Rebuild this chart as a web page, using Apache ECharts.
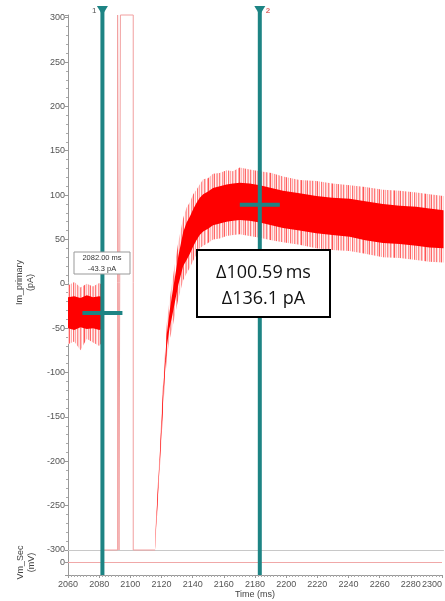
<!DOCTYPE html>
<html><head><meta charset="utf-8">
<script src="https://cdn.jsdelivr.net/npm/echarts@6/dist/echarts.min.js"></script>
<style>html,body{margin:0;padding:0;background:#fff}#c{width:445px;height:601px}</style>
</head><body><div id="c"></div>
<script>
// ---- data ----
const baselineTime      = [2060, 2064, 2068, 2072, 2076, 2080, 2082.5];
const baselineCoreHigh  = [-15, -14, -16, -13, -15, -14, -15];
const baselineCoreLow   = [-50, -52, -49, -51, -50, -52, -50];
const baselineSpikeHigh = [-2, 2, -4, 0, -3, 1, -2];
const baselineSpikeLow  = [-68, -65, -75, -62, -66, -70, -64];

const responseTime = [2115.7, 2116.3, 2117.8, 2119.3, 2121.0, 2123.2, 2124.8, 2126.4, 2128.5, 2130.5,
  2133.6, 2135.8, 2137.9, 2140, 2142.1, 2144.2, 2146.4, 2149.5, 2152.7, 2157, 2161.3, 2165.5, 2169.8,
  2176, 2182.6, 2190, 2197.4, 2208, 2218.7, 2229, 2240, 2250, 2261.3, 2272, 2282.6, 2291, 2300];
const responseCoreHigh = [-296, -267, -221, -172, -115, -56, -33, -14, 9, 31,
  58, 69, 76, 84, 91, 97, 101, 104, 108, 110, 112, 113, 114,
  113, 111, 108, 105, 102, 99, 97, 96, 93, 90, 88, 87, 85, 83];
const responseCoreLow = [-300, -275, -229, -182, -125, -70, -51, -38, -19, -1,
  20, 27, 34, 42, 49, 55, 59, 62, 66, 68, 70, 71, 72,
  71, 69, 66, 63, 60, 57, 55, 53, 49, 46, 45, 43, 41, 40];
const responseSpikeHigh = [-294, -262, -214, -164, -104, -44, -20, 0, 24, 47,
  74, 86, 92, 101, 106, 112, 118, 119, 124, 125, 128, 127, 131,
  129, 127, 125, 121, 117, 116, 113, 111, 109, 106, 105, 103, 101, 99];
const responseSpikeLow = [-300, -280, -236, -190, -136, -82, -64, -52, -34, -17,
  4, 12, 18, 26, 33, 40, 43, 46, 50, 51, 54, 55, 56,
  54, 52, 49, 47, 44, 40, 38, 37, 34, 30, 29, 27, 25, 24];

const artifactTime  = [2082.5, 2082.5, 2091.7, 2091.7, 2092.6, 2092.6, 2093.5, 2093.5, 2101.7, 2101.7, 2115.7];
const artifactValue = [-33, -300, -300, 303, 303, -300, -300, 303, 303, -300, -300];

const vmTime  = [2060, 2300];
const vmValue = [0, 0];

const cursorTime  = [2082, 2182.59];
const cursorValue = [-33, 89];
const cursorNames = ['1', '2'];

const xTickMin = 2060, xTickMax = 2300, xTickStep = 20;
const yTickMin = -300, yTickMax = 303, yTickStep = 50;

const cursorLabelLines = ['2082.00 ms', '-43.3 pA'];
const deltaLines = ['\u0394100.59\u2009ms', '\u0394136.1 pA'];

// ---- chart ----
const FONT = '"Liberation Sans", Arial, sans-serif';
const TEAL = '#1d8484';

// striped texture used for the noisy fringe of the trace (style only)
const stripeTint = [0.55, 0.12, 0.75, 0.25, 0.05, 0.6, 0.3, 0.9, 0.1, 0.45, 0.0, 0.8, 0.2, 0.5, 0.08,
  0.65, 0.3, 0.15, 0.7, 0.35, 0.0, 0.5, 0.95, 0.2, 0.4, 0.1, 0.6, 0.28, 0.85, 0.05, 0.45];
const stripe = document.createElement('canvas');
stripe.width = stripeTint.length; stripe.height = 4;
(function () {
  const g = stripe.getContext('2d');
  stripeTint.forEach((a, i) => {
    const c = Math.round(255 * (1 - 0.7 * a));
    g.fillStyle = 'rgb(255,' + c + ',' + c + ')';
    g.fillRect(i, 0, 1, 4);
  });
})();
const fringeFill = {image: stripe, repeat: 'repeat'};

const chart = echarts.init(document.getElementById('c'), null, {renderer: 'canvas'});

function band(time, hi, lo, color) {
  return function (params, api) {
    const pts = [];
    for (let i = 0; i < time.length; i++) pts.push(api.coord([time[i], hi[i]]));
    for (let i = time.length - 1; i >= 0; i--) pts.push(api.coord([time[i], lo[i]]));
    return {type: 'polygon', shape: {points: pts}, style: {fill: color}};
  };
}

const axisLabelStyle = {color: '#555', fontSize: 9, fontFamily: FONT};

chart.setOption({
  animation: false,
  backgroundColor: '#fff',
  grid: [
    {left: 68, right: 1.5, top: 15, height: 535},
    {left: 68, right: 1.5, top: 550, height: 25}
  ],
  xAxis: [
    {gridIndex: 0, type: 'value', min: xTickMin, max: xTickMax, interval: xTickStep,
     axisLine: {show: true, onZero: false, lineStyle: {color: '#c8c8c8', width: 1}},
     axisTick: {show: false}, axisLabel: {show: false}, splitLine: {show: false}},
    {gridIndex: 1, type: 'value', min: xTickMin, max: xTickMax, interval: xTickStep,
     name: 'Time (ms)', nameLocation: 'middle', nameGap: 14,
     nameTextStyle: {color: '#444', fontSize: 9, fontFamily: FONT},
     axisLine: {show: true, onZero: false, lineStyle: {color: '#999', width: 1}},
     axisTick: {show: true, length: 3, lineStyle: {color: '#999'}},
     minorTick: {show: true, splitNumber: 10, length: 2, lineStyle: {color: '#aaa'}},
     axisLabel: Object.assign({margin: 5, alignMaxLabel: 'right', formatter: v => String(v)}, axisLabelStyle),
     splitLine: {show: false}}
  ],
  yAxis: [
    {gridIndex: 0, type: 'value', min: yTickMin, max: yTickMax, interval: yTickStep,
     name: 'Im_primary\n(pA)', nameLocation: 'middle', nameGap: 31,
     nameTextStyle: {color: '#444', fontSize: 9, fontFamily: FONT, lineHeight: 11},
     axisLine: {show: true, lineStyle: {color: '#999', width: 1}},
     axisTick: {show: true, length: 3, lineStyle: {color: '#999'}},
     minorTick: {show: true, splitNumber: 5, length: 2, lineStyle: {color: '#aaa'}},
     axisLabel: Object.assign({margin: 3, formatter: v => (v % 50 === 0 ? String(v) : '')}, axisLabelStyle),
     splitLine: {show: false}},
    {gridIndex: 1, type: 'value', min: -14, max: 14, interval: 14,
     name: 'Vm_Sec\n(mV)', nameLocation: 'middle', nameGap: 31,
     nameTextStyle: {color: '#444', fontSize: 9, fontFamily: FONT, lineHeight: 11},
     axisLine: {show: true, lineStyle: {color: '#999', width: 1}},
     axisTick: {show: true, length: 3, lineStyle: {color: '#999'}},
     axisLabel: Object.assign({margin: 3, formatter: v => (v === 0 ? '0' : '')}, axisLabelStyle),
     splitLine: {show: false}}
  ],
  series: [
    {type: 'line', xAxisIndex: 1, yAxisIndex: 1, data: vmTime.map((t, i) => [t, vmValue[i]]),
     symbol: 'none', lineStyle: {color: '#f0a8a8', width: 1}, z: 2},
    {type: 'line', xAxisIndex: 0, yAxisIndex: 0, data: artifactTime.map((t, i) => [t, artifactValue[i]]),
     symbol: 'none', clip: false, lineStyle: {color: '#f2a0a0', width: 1}, z: 2},
    {type: 'custom', xAxisIndex: 0, yAxisIndex: 0, data: [[baselineTime[0], baselineCoreHigh[0]]],
     renderItem: band(baselineTime, baselineSpikeHigh, baselineSpikeLow, fringeFill), z: 3},
    {type: 'custom', xAxisIndex: 0, yAxisIndex: 0, data: [[baselineTime[0], baselineCoreHigh[0]]],
     renderItem: band(baselineTime, baselineCoreHigh, baselineCoreLow, '#ff0000'), z: 3},
    {type: 'custom', xAxisIndex: 0, yAxisIndex: 0, data: [[responseTime[0], responseCoreHigh[0]]],
     renderItem: band(responseTime, responseSpikeHigh, responseSpikeLow, fringeFill), z: 3},
    {type: 'custom', xAxisIndex: 0, yAxisIndex: 0, data: [[responseTime[0], responseCoreHigh[0]]],
     renderItem: band(responseTime, responseCoreHigh, responseCoreLow, '#ff0000'), z: 3},
    {type: 'custom', xAxisIndex: 0, yAxisIndex: 0, z: 5,
     data: cursorTime.map((t, i) => [t, cursorValue[i], cursorNames[i]]),
     renderItem: function (params, api) {
       const p = api.coord([api.value(0), api.value(1)]);
       const cs = params.coordSys;
       const top = cs.y, bottom = cs.y + cs.height + 25;
       const name = cursorNames[params.dataIndex];
       const first = params.dataIndex === 0;
       return {type: 'group', children: [
         {type: 'line', shape: {x1: p[0], y1: top - 4, x2: p[0], y2: bottom}, style: {stroke: TEAL, lineWidth: 4}},
         {type: 'polygon', shape: {points: [[p[0] - 5.5, top - 9], [p[0] + 5.5, top - 9], [p[0], top]]}, style: {fill: TEAL}},
         {type: 'line', shape: {x1: p[0] - 20, y1: p[1], x2: p[0] + 20, y2: p[1]}, style: {stroke: TEAL, lineWidth: 4}},
         {type: 'text', x: first ? p[0] - 6 : p[0] + 6, y: top - 4,
          style: {text: name, fill: first ? '#555' : '#e06a6a', fontSize: 8, fontFamily: FONT,
                  align: first ? 'right' : 'left', verticalAlign: 'middle', fontWeight: first ? 'normal' : 'bold'}}
       ]};
     }}
  ],
  graphic: {elements: [
    {type: 'rect', z: 100, shape: {x: 74, y: 252, width: 56, height: 22}, style: {fill: '#fff', stroke: '#999', lineWidth: 1}},
    {type: 'text', z: 101, x: 102, y: 258, style: {text: cursorLabelLines[0], fill: '#333', fontSize: 7.5, fontFamily: FONT, align: 'center', verticalAlign: 'middle'}},
    {type: 'text', z: 101, x: 102, y: 268.5, style: {text: cursorLabelLines[1], fill: '#333', fontSize: 7.5, fontFamily: FONT, align: 'center', verticalAlign: 'middle'}},
    {type: 'rect', z: 100, shape: {x: 197, y: 250, width: 133, height: 67}, style: {fill: '#fff', stroke: '#000', lineWidth: 2}},
    {type: 'text', z: 101, x: 263.5, y: 273, style: {text: deltaLines[0], fill: '#111', fontSize: 18, fontFamily: '"Open Sans", "Liberation Sans", sans-serif', align: 'center', verticalAlign: 'middle'}},
    {type: 'text', z: 101, x: 263.5, y: 299, style: {text: deltaLines[1], fill: '#111', fontSize: 18, fontFamily: '"Open Sans", "Liberation Sans", sans-serif', align: 'center', verticalAlign: 'middle'}}
  ]}
});
</script>
</body></html>
